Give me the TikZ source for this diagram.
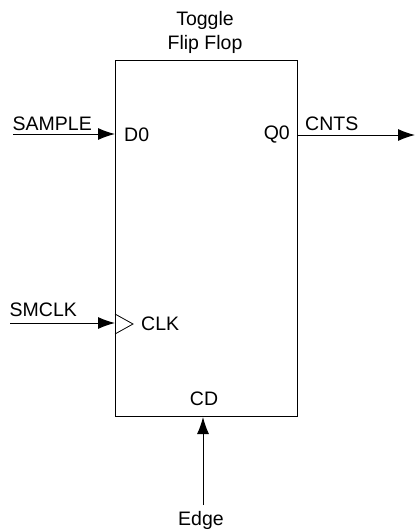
\documentclass[tikz,border=0pt]{standalone}
\usepackage{fontspec}
\setmainfont{Liberation Sans}
\usetikzlibrary{arrows.meta,positioning}
\tikzset{
  sig/.style={line width=1pt,-{Latex[length=17pt,width=12pt]}},
  lbl/.style={inner sep=0pt,font=\fontsize{19.5pt}{24pt}\selectfont},
}
\begin{document}
\begin{tikzpicture}[x=1pt, y=-1pt]
  \useasboundingbox (0,0) rectangle (415,532);

  % ---- Flip flop body ----
  \node[draw,line width=1.1pt,minimum width=181.5pt,minimum height=356pt,inner sep=0pt,anchor=north west] (ff) at (115,60) {};
  \node[lbl,align=center] (title) at (205,32) {Toggle\\Flip Flop};

  % Pins inside
  \node[lbl,anchor=west] (d0) at (124,135) {D0};
  \node[lbl,anchor=east] (q0) at (290,135) {Q0};
  \node[lbl,anchor=west] (clk) at (141,324) {CLK};
  \node[lbl] (cd) at (204,399) {CD};

  % Free ends
  \coordinate (sampleend) at (13,134);
  \coordinate (smclkend) at (10,323);
  \coordinate (cntsend) at (415,135);
  \coordinate (edgeend) at (203,505);
  \coordinate (d0pin) at (115,134);
  \coordinate (q0pin) at (297,135);
  \coordinate (clkpin) at (115,323);
  \coordinate (cdpin) at (203,417);

  % Signals
  \draw[sig] (sampleend) -- (d0pin);
  \draw[sig] (smclkend) -- (clkpin);
  \draw[sig] (q0pin) -- (cntsend);
  \draw[sig] (edgeend) -- (cdpin);

  \node[lbl,anchor=base west] (sample) at (12.5,130) {SAMPLE};
  \node[lbl,anchor=base west] (smclk) at (9.5,316) {SMCLK};
  \node[lbl,anchor=base west] (cnts) at (305,130) {CNTS};
  \node[lbl] (edge) at (201,520) {Edge};

  % Clock wedge
  \coordinate (wedgea) at (115,314);
  \coordinate (wedgeb) at (133,324);
  \coordinate (wedgec) at (115,334);
  \draw[line width=0.8pt] (wedgea) -- (wedgeb) -- (wedgec);

\end{tikzpicture}
\end{document}
